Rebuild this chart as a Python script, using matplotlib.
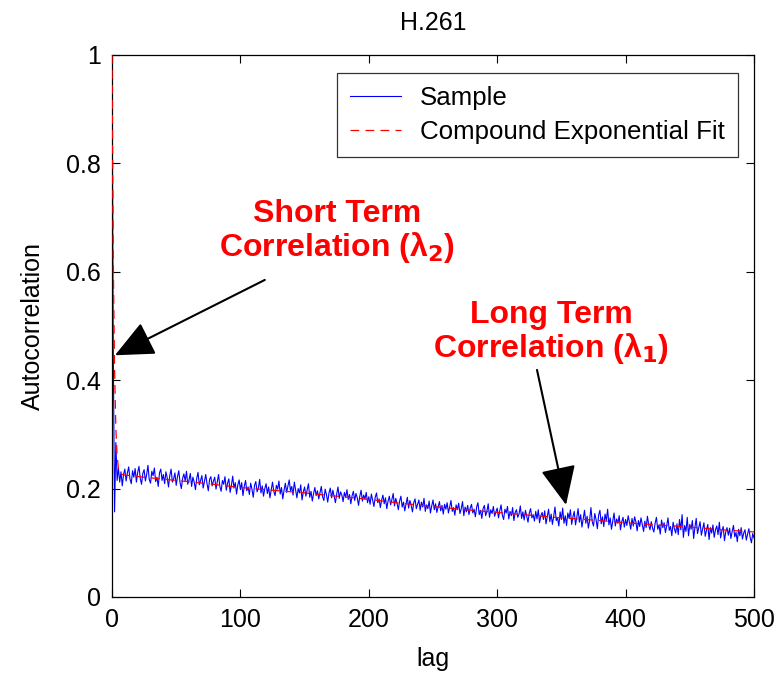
import matplotlib
matplotlib.use("Agg")
import matplotlib.pyplot as plt

plt.rcParams['font.family'] = ['Liberation Sans', 'DejaVu Sans']

# Sample autocorrelation, lags 0..500
sample = [
    1.000, 0.450, 0.157, 0.285, 0.215, 0.238, 0.212, 0.231, 0.205, 0.226, 0.236, 0.214, 0.229, 0.240, 0.218, 0.209, 0.233, 0.221, 0.237, 0.212,
    0.230, 0.241, 0.219, 0.208, 0.228, 0.235, 0.214, 0.226, 0.243, 0.217, 0.210, 0.232, 0.224, 0.238, 0.213, 0.221, 0.204, 0.229, 0.236, 0.215,
    0.226, 0.209, 0.231, 0.220, 0.203, 0.224, 0.236, 0.212, 0.218, 0.229, 0.206, 0.222, 0.233, 0.211, 0.200, 0.219, 0.227, 0.214, 0.232, 0.208,
    0.216, 0.228, 0.204, 0.221, 0.212, 0.198, 0.219, 0.230, 0.207, 0.215, 0.224, 0.201, 0.213, 0.226, 0.209, 0.196, 0.217, 0.222, 0.205, 0.214,
    0.221, 0.199, 0.212, 0.226, 0.204, 0.195, 0.215, 0.208, 0.222, 0.197, 0.210, 0.218, 0.193, 0.206, 0.223, 0.201, 0.211, 0.190, 0.207, 0.216,
    0.198, 0.211, 0.187, 0.204, 0.215, 0.196, 0.203, 0.189, 0.210, 0.199, 0.184, 0.206, 0.213, 0.194, 0.201, 0.217, 0.192, 0.205, 0.186, 0.200,
    0.209, 0.191, 0.203, 0.183, 0.198, 0.212, 0.195, 0.187, 0.206, 0.199, 0.214, 0.190, 0.202, 0.181, 0.197, 0.210, 0.193, 0.205, 0.216, 0.196,
    0.204, 0.188, 0.212, 0.197, 0.183, 0.200, 0.192, 0.207, 0.179, 0.194, 0.203, 0.186, 0.198, 0.209, 0.184, 0.195, 0.177, 0.191, 0.202, 0.187,
    0.196, 0.181, 0.193, 0.204, 0.185, 0.178, 0.199, 0.189, 0.175, 0.192, 0.201, 0.183, 0.197, 0.186, 0.174, 0.190, 0.203, 0.182, 0.194, 0.188,
    0.176, 0.193, 0.184, 0.198, 0.180, 0.189, 0.172, 0.187, 0.195, 0.178, 0.191, 0.183, 0.169, 0.186, 0.197, 0.177, 0.188, 0.181, 0.193, 0.174,
    0.185, 0.171, 0.190, 0.178, 0.167, 0.184, 0.192, 0.174, 0.181, 0.165, 0.179, 0.188, 0.172, 0.183, 0.163, 0.177, 0.186, 0.170, 0.180, 0.191,
    0.168, 0.182, 0.173, 0.161, 0.177, 0.186, 0.166, 0.175, 0.159, 0.172, 0.184, 0.164, 0.178, 0.169, 0.157, 0.174, 0.181, 0.163, 0.171, 0.179,
    0.160, 0.175, 0.166, 0.182, 0.158, 0.170, 0.163, 0.177, 0.155, 0.168, 0.179, 0.161, 0.172, 0.156, 0.166, 0.176, 0.159, 0.169, 0.153, 0.171,
    0.162, 0.174, 0.155, 0.167, 0.178, 0.158, 0.165, 0.151, 0.170, 0.161, 0.173, 0.154, 0.163, 0.176, 0.150, 0.166, 0.157, 0.169, 0.152, 0.164,
    0.171, 0.155, 0.162, 0.148, 0.166, 0.174, 0.152, 0.160, 0.145, 0.163, 0.169, 0.150, 0.158, 0.172, 0.147, 0.161, 0.154, 0.167, 0.149, 0.157,
    0.164, 0.146, 0.159, 0.170, 0.151, 0.143, 0.162, 0.155, 0.167, 0.144, 0.158, 0.150, 0.165, 0.141, 0.156, 0.161, 0.147, 0.153, 0.168, 0.145,
    0.157, 0.142, 0.160, 0.149, 0.138, 0.155, 0.163, 0.146, 0.152, 0.140, 0.158, 0.144, 0.161, 0.137, 0.150, 0.156, 0.143, 0.159, 0.135, 0.148,
    0.162, 0.139, 0.153, 0.134, 0.149, 0.166, 0.141, 0.146, 0.131, 0.157, 0.143, 0.164, 0.136, 0.150, 0.132, 0.155, 0.145, 0.161, 0.134, 0.148,
    0.158, 0.133, 0.147, 0.163, 0.138, 0.152, 0.129, 0.144, 0.160, 0.136, 0.149, 0.127, 0.142, 0.165, 0.139, 0.131, 0.154, 0.143, 0.126, 0.151,
    0.160, 0.135, 0.148, 0.130, 0.153, 0.141, 0.162, 0.133, 0.146, 0.125, 0.140, 0.155, 0.131, 0.144, 0.136, 0.150, 0.124, 0.139, 0.147, 0.129,
    0.143, 0.132, 0.150, 0.137, 0.125, 0.145, 0.131, 0.148, 0.139, 0.122, 0.141, 0.130, 0.146, 0.134, 0.121, 0.140, 0.128, 0.149, 0.133, 0.124,
    0.139, 0.127, 0.120, 0.136, 0.147, 0.125, 0.133, 0.116, 0.142, 0.128, 0.137, 0.119, 0.131, 0.146, 0.123, 0.130, 0.113, 0.138, 0.126, 0.118,
    0.135, 0.115, 0.143, 0.124, 0.152, 0.110, 0.132, 0.121, 0.147, 0.113, 0.134, 0.125, 0.141, 0.108, 0.129, 0.145, 0.117, 0.128, 0.139, 0.114,
    0.126, 0.137, 0.112, 0.123, 0.134, 0.106, 0.128, 0.118, 0.133, 0.110, 0.124, 0.131, 0.115, 0.138, 0.109, 0.122, 0.130, 0.104, 0.120, 0.128,
    0.114, 0.127, 0.108, 0.121, 0.132, 0.111, 0.119, 0.102, 0.125, 0.113, 0.128, 0.107, 0.118, 0.124, 0.105, 0.116, 0.126, 0.110, 0.100, 0.117, 0.109,
]
sample_lags = list(range(len(sample)))

# Compound exponential fit (at selected lags)
fit_lags = [0, 1, 2, 3, 4, 5, 6, 8, 10, 25, 50, 75, 100, 125, 150, 175, 200, 225, 250, 275, 300, 325, 350, 375, 400, 425, 450, 475, 500]
fit_vals = [1.000, 0.620, 0.420, 0.310, 0.260, 0.238, 0.230, 0.226, 0.225, 0.221, 0.215, 0.209, 0.202, 0.197, 0.192, 0.186, 0.180, 0.173, 0.167, 0.161,
            0.156, 0.151, 0.146, 0.142, 0.137, 0.133, 0.129, 0.124, 0.120]

x_ticks = [0, 100, 200, 300, 400, 500]
y_ticks = [0, 0.2, 0.4, 0.6, 0.8, 1]
y_ticklabels = ['0', '0.2', '0.4', '0.6', '0.8', '1']

fig = plt.figure(figsize=(7.78, 6.75), dpi=100)
ax = fig.add_axes([112/778, 1-597/675, (754-112)/778, (597-55)/675])

ax.plot(sample_lags, sample, color='#0000ff', lw=0.8, label='Sample', zorder=2)
ax.plot(fit_lags, fit_vals, color='#ff0000', lw=0.9, linestyle=(0, (7, 5)),
        label='Compound Exponential Fit', zorder=3)

ax.set_xlim(0, 500)
ax.set_ylim(0, 1)
ax.set_xticks(x_ticks)
ax.set_yticks(y_ticks)
ax.set_yticklabels(y_ticklabels)
ax.tick_params(direction='in', top=True, right=True, labelsize=18, length=6, width=0.8, pad=8)
for s in ax.spines.values():
    s.set_linewidth(0.9)

ax.set_xlabel('lag', fontsize=18, labelpad=11)
ax.set_ylabel('Autocorrelation', fontsize=18, labelpad=15)
ax.set_title('H.261', fontsize=18, pad=18)

leg = ax.legend(loc='upper right', fontsize=18.6, frameon=True, fancybox=False,
                edgecolor='black', handlelength=1.95, borderpad=0.5,
                labelspacing=0.38, handletextpad=0.75, borderaxespad=0,
                bbox_to_anchor=(0.975, 0.967))
leg.get_frame().set_linewidth(0.9)

arrow_props = dict(arrowstyle='-|>,head_length=1.1,head_width=0.5', color='black', lw=1.5,
                   shrinkA=0, shrinkB=0, mutation_scale=22)

ax.text(175, 0.673, 'Short Term\nCorrelation (λ$_{\\mathbf{2}}$)', ha='center', va='center',
        fontsize=23, fontweight='bold', color='#ff0000', linespacing=1.05)
ax.annotate('', xy=(2.3, 0.446), xytext=(119, 0.585), arrowprops=arrow_props)

ax.text(342, 0.487, 'Long Term\nCorrelation (λ$_{\\mathbf{1}}$)', ha='center', va='center',
        fontsize=23, fontweight='bold', color='#ff0000', linespacing=1.05)
ax.annotate('', xy=(353.6, 0.170), xytext=(331, 0.419), arrowprops=arrow_props)

fig.savefig('out.png', dpi=100)
